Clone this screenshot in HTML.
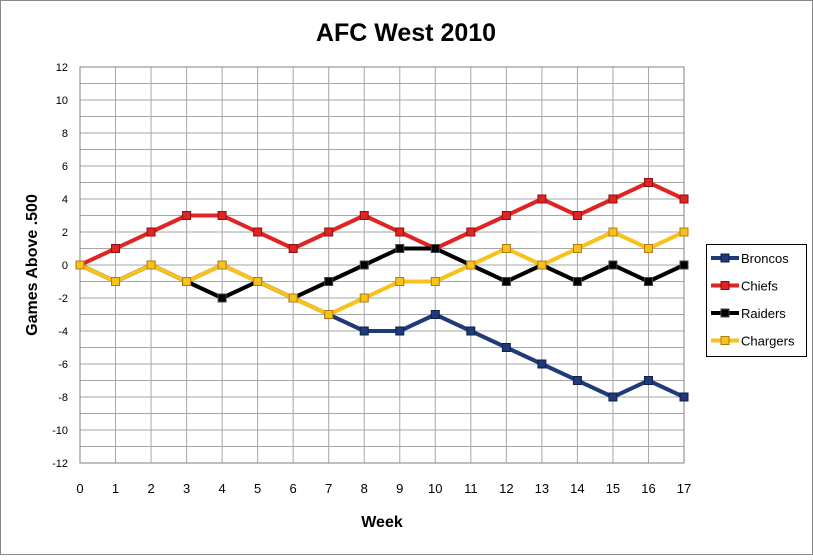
<!DOCTYPE html>
<html><head><meta charset="utf-8"><style>
body{margin:0;background:#fff;font-family:"Liberation Sans",Arial,sans-serif}
svg text{font-family:"Liberation Sans",Arial,sans-serif}
</style></head><body>
<svg id="c" width="813" height="555" xmlns="http://www.w3.org/2000/svg">
<rect x="0.5" y="0.5" width="812" height="554" fill="#fff" stroke="#888"/>
<text x="406" y="41" text-anchor="middle" font-size="25" font-weight="bold">AFC West 2010</text>
<text x="382" y="527" text-anchor="middle" font-size="16" font-weight="bold">Week</text>
<text transform="translate(37,265) rotate(-90)" text-anchor="middle" font-size="16" font-weight="bold">Games Above .500</text>
<g id="grid"></g><g id="series"></g><g id="ticks"></g>
<g>
<rect x="706.5" y="244.5" width="100" height="112" fill="#fff" stroke="#000"/>
<g id="legend"></g></g>
</svg>
<script>
const weeks=[0,1,2,3,4,5,6,7,8,9,10,11,12,13,14,15,16,17];
const seriesNames=["Broncos","Chiefs","Raiders","Chargers"];
const broncos=[0,-1,0,-1,0,-1,-2,-3,-4,-4,-3,-4,-5,-6,-7,-8,-7,-8];
const chiefs=[0,1,2,3,3,2,1,2,3,2,1,2,3,4,3,4,5,4];
const raiders=[0,-1,0,-1,-2,-1,-2,-1,0,1,1,0,-1,0,-1,0,-1,0];
const chargers=[0,-1,0,-1,0,-1,-2,-3,-2,-1,-1,0,1,0,1,2,1,2];
const yTicks=[12,10,8,6,4,2,0,-2,-4,-6,-8,-10,-12];
const colors=["#1f3a78","#e02424","#000000","#f7c21c"];
const strokes=["#0d1f4a","#8a1010","#444","#b07a10"];
const X0=80,X1=684,Y0=67,Y1=463;
const xs=w=>X0+(w-0)*(X1-X0)/17;
const ys=v=>Y0+(12-v)*(Y1-Y0)/24;
const NS="http://www.w3.org/2000/svg";
function mk(t,a,p){const e=document.createElementNS(NS,t);for(const k in a)e.setAttribute(k,a[k]);p.appendChild(e);return e;}
const g=document.getElementById('grid'),tk=document.getElementById('ticks'),sg=document.getElementById('series'),lg=document.getElementById('legend');
for(let v=-12;v<=12;v++){const l=mk('line',{x1:X0,x2:X1,y1:ys(v),y2:ys(v),stroke:'#a6a6a6','stroke-width':1},g);

}
weeks.forEach(w=>{const l=mk('line',{x1:xs(w),x2:xs(w),y1:Y0,y2:Y1,stroke:'#a6a6a6','stroke-width':1},g);


const t=mk('text',{x:xs(w),y:Y1+30,'text-anchor':'middle','font-size':13},tk);t.textContent=w;

});
yTicks.forEach(v=>{const t=mk('text',{x:X0-12,y:ys(v)+4,'text-anchor':'end','font-size':11},tk);t.textContent=v;

});
mk('rect',{x:X0,y:Y0,width:X1-X0,height:Y1-Y0,fill:'none',stroke:'#808080'},g);
[broncos,chiefs,raiders,chargers].forEach((d,i)=>{
const grp=mk('g',{},sg);


mk('polyline',{points:d.map((v,j)=>xs(weeks[j])+','+ys(v)).join(' '),fill:'none',stroke:colors[i],'stroke-width':4,'stroke-linejoin':'round'},grp);
d.forEach((v,j)=>{const r=mk('rect',{x:xs(weeks[j])-4,y:ys(v)-4,width:8,height:8,fill:colors[i],stroke:strokes[i],'stroke-width':1},grp);

});
const ly=258+i*27.5;
const le=mk('g',{},lg);


mk('line',{x1:711,x2:739,y1:ly,y2:ly,stroke:colors[i],'stroke-width':4},le);
mk('rect',{x:721,y:ly-4,width:8,height:8,fill:colors[i],stroke:strokes[i]},le);
const t=mk('text',{x:741,y:ly+5,'font-size':13},le);t.textContent=seriesNames[i];
});
</script>
</body></html>
